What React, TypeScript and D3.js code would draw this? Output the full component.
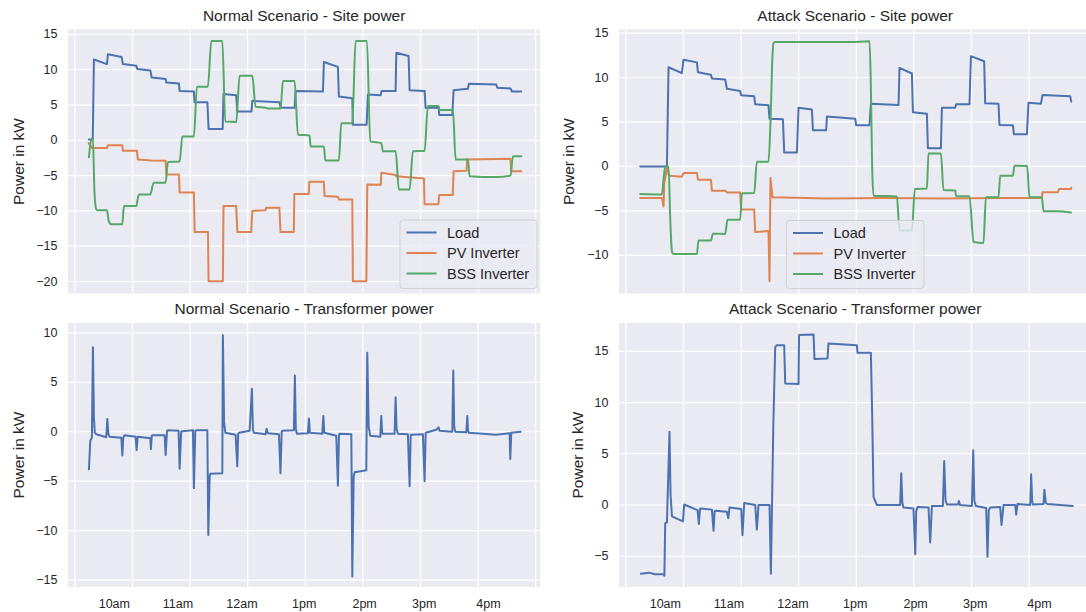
import React from 'react';
import * as d3 from 'd3';

type Pt = [number, number];

// hours of the day on the x axis
const hourGrid = [9, 10, 11, 12, 13, 14, 15, 16, 17];
const timeLabels = ['10am', '11am', '12am', '1pm', '2pm', '3pm', '4pm'];
const timeLabelHours = [9.685, 10.79, 11.9, 12.98, 14.03, 15.065, 16.18];

const seriesNames = ['Load', 'PV Inverter', 'BSS Inverter'];
const seriesColors = ['#4c72b0', '#dd8452', '#55a868'];

// Normal scenario - site power  [hour, kW]
const normalLoad: Pt[] = [
  [9.24, 0.1], [9.31, 0.1], [9.33, 11.45], [9.556, 10.8], [9.573, 12.2], [9.81, 11.8], [9.833, 10.8],
  [10.066, 10.55], [10.083, 10.1], [10.31, 9.9], [10.332, 8.9], [10.575, 8.7], [10.587, 8.2], [10.806, 8.05],
  [10.818, 7.0], [11.066, 6.9], [11.078, 5.4], [11.3, 5.4], [11.321, 1.6], [11.565, 1.6], [11.58, 6.55],
  [11.8, 6.4], [11.819, 4.07], [12.065, 4.07], [12.08, 5.6], [12.554, 5.4], [12.571, 4.6], [12.814, 4.6],
  [12.832, 7.0], [13.306, 6.9], [13.323, 11.1], [13.566, 10.4], [13.583, 6.2], [13.816, 5.95], [13.826, 2.2],
  [14.065, 2.2], [14.087, 6.5], [14.307, 6.4], [14.325, 7.0], [14.568, 7.0], [14.58, 12.4], [14.793, 11.95],
  [14.811, 7.1], [15.071, 7.0], [15.089, 4.6], [15.314, 4.6], [15.326, 3.6], [15.552, 3.6], [15.575, 7.1],
  [15.823, 7.3], [15.84, 8.0], [16.316, 7.9], [16.333, 7.45], [16.564, 7.35], [16.587, 6.9], [16.75, 6.9],
];
const normalPV: Pt[] = [
  [9.24, -0.4], [9.3, -1.1], [9.556, -1.1], [9.573, -0.7], [9.823, -0.7], [9.833, -1.47], [10.076, -1.47],
  [10.094, -2.73], [10.326, -2.85], [10.575, -2.9], [10.587, -4.85], [10.806, -4.85], [10.818, -7.4],
  [11.066, -7.4], [11.078, -12.97], [11.31, -12.97], [11.321, -19.96], [11.569, -19.96], [11.58, -9.3],
  [11.8, -9.3], [11.82, -13], [12.06, -13], [12.08, -10.0], [12.31, -9.9], [12.32, -9.55], [12.55, -9.55],
  [12.57, -13], [12.8, -13], [12.81, -7.6], [13.06, -7.6], [13.07, -5.87], [13.32, -5.87], [13.335, -7.9],
  [13.566, -8.0], [13.583, -8.37], [13.816, -8.4], [13.826, -19.96], [14.06, -19.96], [14.076, -6.25],
  [14.31, -6.3], [14.32, -4.6], [14.57, -4.9], [14.58, -5.1], [15.06, -5.4], [15.07, -9.07], [15.31, -9.07],
  [15.326, -7.76], [15.56, -7.76], [15.575, -4.38], [15.8, -4.3], [15.81, -2.73], [16.32, -2.65],
  [16.56, -2.6], [16.576, -4.38], [16.75, -4.38],
];
const normalBSS: Pt[] = [
  [9.243, -2.4], [9.285, 0.1], [9.313, 0.1], [9.34, -7.5], [9.372, -9.8], [9.39, -9.9], [9.556, -9.9],
  [9.59, -11.5], [9.632, -11.9], [9.823, -11.9], [9.851, -9.3], [10.066, -9.3], [10.1, -7.9], [10.123, -7.66],
  [10.309, -7.66], [10.366, -6.0], [10.575, -6.0], [10.615, -3.06], [10.818, -3.0], [10.865, 0.55],
  [11.066, 0.55], [11.118, 7.6], [11.309, 7.6], [11.368, 14.07], [11.559, 14.07], [11.611, 2.66],
  [11.802, 2.6], [11.859, 9.14], [12.08, 9.14], [12.137, 4.77], [12.323, 4.6], [12.351, 4.5], [12.571, 4.5],
  [12.611, 8.4], [12.814, 8.4], [12.872, 0.79], [13.075, 0.7], [13.092, -0.86], [13.323, -0.86],
  [13.347, -2.87], [13.583, -2.87], [13.625, 2.43], [13.816, 2.43], [13.873, 14.07], [14.07, 14.07],
  [14.128, -0.15], [14.32, -0.4], [14.347, -1.56], [14.568, -1.56], [14.625, -6.96], [14.811, -6.96],
  [14.868, -1.56], [15.071, -1.5], [15.128, 4.87], [15.314, 4.87], [15.326, 4.3], [15.563, 4.3],
  [15.61, -2.73], [15.823, -2.73], [15.852, -5.08], [16.316, -5.2], [16.564, -5.0], [16.604, -2.27],
  [16.75, -2.27],
];

// Attack scenario - site power
const attackLoad: Pt[] = [
  [9.248, 0.0], [9.712, 0.0], [9.74, 11.15], [9.972, 10.5], [10.0, 12.0], [10.233, 11.7], [10.25, 10.6],
  [10.476, 10.3], [10.493, 9.9], [10.724, 9.78], [10.753, 8.73], [10.984, 8.47], [11.001, 8.0], [11.227, 7.9],
  [11.245, 6.98], [11.476, 6.87], [11.493, 5.37], [11.726, 5.3], [11.748, 1.57], [11.969, 1.57],
  [11.997, 6.6], [12.229, 6.4], [12.247, 4.07], [12.477, 4.07], [12.49, 5.6], [12.98, 5.37], [12.998, 4.62],
  [13.229, 4.62], [13.253, 7.05], [13.733, 6.9], [13.75, 11.08], [13.965, 10.45], [13.983, 6.1],
  [14.226, 5.93], [14.243, 2.05], [14.469, 2.05], [14.486, 6.6], [14.717, 6.6], [14.734, 6.98],
  [14.965, 6.98], [14.99, 12.4], [15.22, 11.83], [15.238, 7.09], [15.469, 7.05], [15.486, 4.66],
  [15.719, 4.62], [15.736, 3.62], [15.962, 3.62], [15.99, 7.17], [16.205, 7.05], [16.233, 8.02],
  [16.714, 7.9], [16.732, 7.28],
];
const attackPV: Pt[] = [
  [9.248, -3.55], [9.625, -3.55], [9.653, -4.5], [9.665, -2.0], [9.712, -0.1], [9.74, -0.9], [9.757, -1.05],
  [9.972, -1.16], [10.0, -0.75], [10.233, -0.75], [10.25, -1.5], [10.476, -1.5], [10.493, -2.73],
  [10.724, -2.73], [10.753, -2.93], [10.984, -2.93], [11.001, -4.86], [11.227, -4.86], [11.245, -7.39],
  [11.476, -7.28], [11.493, -12.88], [11.51, -1.31], [11.545, -3.47], [12.5, -3.6], [13.5, -3.55],
  [14.5, -3.6], [15.5, -3.55], [16.222, -3.55], [16.233, -2.91], [16.5, -2.91], [16.52, -2.54],
  [16.726, -2.54], [16.732, -2.4],
];
const attackBSS: Pt[] = [
  [9.248, -3.1], [9.625, -3.15], [9.66, -1.0], [9.685, -0.05], [9.74, 0.0], [9.77, -6.0], [9.8, -9.6],
  [9.82, -9.85], [10.233, -9.85], [10.26, -8.33], [10.476, -8.35], [10.51, -7.58], [10.724, -7.6],
  [10.764, -6.01], [10.984, -6.0], [11.014, -3.02], [11.227, -3.0], [11.274, 0.52], [11.476, 0.52],
  [11.51, 5.0], [11.545, 12.5], [11.562, 13.89], [11.6, 14.0], [12.894, 14.0], [13.229, 14.07],
  [13.25, 10.0], [13.275, 0.0], [13.299, -3.29], [13.705, -3.4], [13.75, -7.2], [13.965, -7.2],
  [14.017, -2.54], [14.226, -2.5], [14.253, 1.46], [14.469, 1.46], [14.514, -2.65], [14.717, -2.7],
  [14.734, -3.35], [14.965, -3.35], [15.035, -8.51], [15.208, -8.62], [15.25, -3.47], [15.469, -3.47],
  [15.498, -1.05], [15.719, -1.05], [15.746, 0.07], [15.966, 0.05], [16.007, -3.47], [16.222, -3.47],
  [16.25, -5.04], [16.5, -5.04], [16.726, -5.2],
];

// Transformer power
const normalTrafo: Pt[] = [
  [9.243, -3.8], [9.267, -0.9], [9.295, -0.6], [9.313, 8.55], [9.33, 1.5], [9.345, -0.1], [9.372, -0.25],
  [9.545, -0.55], [9.563, 1.3], [9.58, -0.2], [9.602, -0.5], [9.806, -0.6], [9.823, -2.4], [9.84, -0.6],
  [9.863, -0.35], [10.054, -0.5], [10.071, -1.85], [10.09, -0.5], [10.309, -0.65], [10.319, -1.75],
  [10.335, -0.4], [10.354, -0.35], [10.557, -0.35], [10.575, -2.35], [10.6, 0.1], [10.615, 0.15],
  [10.8, 0.1], [10.818, -3.75], [10.845, 0.0], [10.858, 0.05], [11.049, 0.15], [11.066, -5.7], [11.09, 0.1],
  [11.108, 0.15], [11.299, 0.15], [11.316, -10.45], [11.34, -4.5], [11.351, -4.25], [11.559, -4.2],
  [11.569, 9.75], [11.59, 1.0], [11.611, -0.1], [11.79, -0.3], [11.819, -3.5], [11.835, -0.2], [11.847, -0.1],
  [12.033, 0.1], [12.073, 4.35], [12.09, 0.2], [12.108, -0.1], [12.311, -0.25], [12.328, 0.3], [12.35, -0.15],
  [12.542, -0.25], [12.569, -4.2], [12.59, 0.0], [12.6, 0.1], [12.802, 0.15], [12.819, 5.7], [12.835, 0.3],
  [12.854, -0.2], [13.045, -0.15], [13.063, 1.35], [13.08, -0.1], [13.295, -0.2], [13.313, 1.6], [13.33, -0.1],
  [13.538, -0.4], [13.566, -5.45], [13.585, -0.3], [13.595, -0.2], [13.799, -0.25], [13.816, -14.65],
  [13.84, -4.5], [13.856, -4.1], [14.059, -3.9], [14.076, 8.0], [14.1, 0.5], [14.128, -0.4], [14.302, -0.5],
  [14.319, 1.6], [14.335, -0.2], [14.55, -0.2], [14.568, 3.5], [14.585, 0.3], [14.608, -0.2], [14.781, -0.25],
  [14.811, -5.5], [14.83, -0.3], [15.042, -0.25], [15.071, -5.0], [15.09, -0.1], [15.274, 0.2], [15.314, 0.45],
  [15.33, 0.1], [15.552, 0.0], [15.569, 6.2], [15.585, 0.5], [15.604, 0.0], [15.795, -0.05], [15.813, 1.6],
  [15.825, 0.1], [15.84, -0.1], [16.316, -0.3], [16.547, -0.15], [16.559, -2.75], [16.576, -0.1],
  [16.738, 0.0],
];
const attackTrafo: Pt[] = [
  [9.26, -6.7], [9.4, -6.6], [9.5, -6.75], [9.653, -6.75], [9.668, -6.9], [9.682, -1.8], [9.712, -1.7],
  [9.757, 7.15], [9.775, 1.0], [9.799, -1.1], [9.99, -1.6], [10.012, 0.05], [10.243, -0.5], [10.267, -1.85],
  [10.285, -0.4], [10.302, -0.33], [10.493, -0.45], [10.521, -2.5], [10.54, -0.6], [10.55, -0.55],
  [10.753, -0.65], [10.776, -1.3], [10.799, -0.25], [11.002, -0.4], [11.024, -2.95], [11.054, 0.2],
  [11.245, 0.0], [11.274, -2.4], [11.302, 0.0], [11.493, 0.0], [11.517, -6.7], [11.56, 8.0], [11.592, 15.4],
  [11.621, 15.6], [11.748, 15.6], [11.766, 11.85], [11.997, 11.8], [12.006, 16.6], [12.257, 16.65],
  [12.274, 14.25], [12.5, 14.3], [12.517, 15.75], [13.01, 15.6], [13.021, 14.85], [13.253, 14.85],
  [13.275, 9.0], [13.299, 0.8], [13.358, 0.0], [13.762, 0.0], [13.78, 3.1], [13.8, 0.2], [13.819, -0.25],
  [13.993, -0.35], [14.023, -4.8], [14.04, -0.6], [14.063, -0.2], [14.254, -0.25], [14.283, -3.65],
  [14.313, -0.1], [14.503, -0.1], [14.526, 4.3], [14.55, 0.4], [14.573, 0.05], [14.764, 0.05], [14.781, 0.4],
  [14.8, 0.0], [15.007, -0.1], [15.03, 5.35], [15.05, 0.4], [15.076, -0.1], [15.255, -0.3], [15.278, -5.05],
  [15.3, -0.5], [15.325, -0.25], [15.498, -0.2], [15.521, -1.95], [15.556, 0.0], [15.759, 0.0],
  [15.776, -0.95], [15.799, 0.1], [16.019, 0.0], [16.035, 3.0], [16.055, 0.3], [16.066, 0.05], [16.25, 0.1],
  [16.266, 1.5], [16.29, 0.2], [16.319, 0.1], [16.76, -0.1],
];

const FONT = "'Liberation Sans', Arial, sans-serif";
const TEXT = '#262626';
const X_DOMAIN: [number, number] = [8.88, 17.08];

const fmt = (v: number) => (v < 0 ? '\u2212' + Math.abs(v) : String(v));

interface LineSpec { data: Pt[]; color: string; smooth?: boolean }

interface PanelProps {
  id: string;
  left: number; top: number; width: number; height: number;
  yDomain: [number, number]; yTicks: number[];
  lines: LineSpec[];
  title: string;
  showXLabels: boolean;
  ylabelX: number;
  legend?: { x: number; y: number; w: number; h: number };
}

const Panel = (p: PanelProps) => {
  const x = d3.scaleLinear().domain(X_DOMAIN).range([p.left, p.left + p.width]);
  const y = d3.scaleLinear().domain(p.yDomain).range([p.top + p.height, p.top]);
  const straight = d3.line<Pt>().x(d => x(d[0])).y(d => y(d[1]));
  const smooth = d3.line<Pt>().x(d => x(d[0])).y(d => y(d[1])).curve(d3.curveMonotoneX);

  return (
    <g>
      <clipPath id={p.id}>
        <rect x={p.left} y={p.top} width={p.width} height={p.height} />
      </clipPath>
      <rect x={p.left} y={p.top} width={p.width} height={p.height} fill="#eaeaf2" />
      {hourGrid.map(h => (
        <line key={'gx' + h} x1={x(h)} x2={x(h)} y1={p.top} y2={p.top + p.height} stroke="#fff" strokeWidth={1.2} />
      ))}
      {p.yTicks.map(v => (
        <line key={'gy' + v} x1={p.left} x2={p.left + p.width} y1={y(v)} y2={y(v)} stroke="#fff" strokeWidth={1.2} />
      ))}
      <g clipPath={`url(#${p.id})`}>
        {p.lines.map((l, i) => (
          <path key={i} d={(l.smooth ? smooth : straight)(l.data) || ''} fill="none" stroke={l.color}
            strokeWidth={2} strokeLinejoin="round" strokeLinecap="round" />
        ))}
      </g>
      {p.yTicks.map(v => (
        <text key={'ty' + v} x={p.left - 10.5} y={y(v)} textAnchor="end" dominantBaseline="central"
          fontSize={12.5} fill={TEXT} fontFamily={FONT}>{fmt(v)}</text>
      ))}
      {p.showXLabels && timeLabels.map((s, i) => (
        <text key={s} x={x(timeLabelHours[i])} y={p.top + p.height + 21} textAnchor="middle"
          fontSize={12.5} fill={TEXT} fontFamily={FONT}>{s}</text>
      ))}
      <text x={p.left + p.width / 2} y={p.top - 9} textAnchor="middle" fontSize={15.5} fill={TEXT}
        fontFamily={FONT}>{p.title}</text>
      <text transform={`translate(${p.ylabelX},${p.top + p.height / 2}) rotate(-90)`} textAnchor="middle"
        dominantBaseline="central" fontSize={15.5} fill={TEXT} fontFamily={FONT}>Power in kW</text>
      {p.legend && (
        <g>
          <rect x={p.legend.x} y={p.legend.y} width={p.legend.w} height={p.legend.h} rx={3}
            fill="#eaeaf2" fillOpacity={0.8} stroke="#cccccc" strokeOpacity={0.8} />
          {seriesNames.map((n, i) => {
            const cy = p.legend!.y + 12.5 + i * 20.5;
            return (
              <g key={n}>
                <line x1={p.legend!.x + 6.5} x2={p.legend!.x + 36.5} y1={cy} y2={cy} stroke={seriesColors[i]} strokeWidth={2} />
                <text x={p.legend!.x + 47} y={cy} dominantBaseline="central" fontSize={14.5} fill={TEXT}
                  fontFamily={FONT}>{n}</text>
              </g>
            );
          })}
        </g>
      )}
    </g>
  );
};

export default function App() {
  const leftX = 68, rightX = 619, w = 472.3, h = 264;
  const topY = 29.5, botY = 323;
  return (
    <svg width={1086} height={612} style={{ position: 'absolute', left: 0, top: 0, background: '#fff' }}>
      <Panel id="c1" left={leftX} top={topY} width={w} height={h} yDomain={[-21.7, 15.7]}
        yTicks={[-20, -15, -10, -5, 0, 5, 10, 15]} title="Normal Scenario - Site power" showXLabels={false}
        ylabelX={18}
        lines={[
          { data: normalLoad, color: seriesColors[0] },
          { data: normalPV, color: seriesColors[1] },
          { data: normalBSS, color: seriesColors[2], smooth: true },
        ]}
        legend={{ x: 400, y: 220, w: 137, h: 68.5 }} />
      <Panel id="c2" left={rightX} top={topY} width={w} height={h} yDomain={[-14.3, 15.4]}
        yTicks={[-10, -5, 0, 5, 10, 15]} title="Attack Scenario - Site power" showXLabels={false}
        ylabelX={568}
        lines={[
          { data: attackLoad, color: seriesColors[0] },
          { data: attackPV, color: seriesColors[1] },
          { data: attackBSS, color: seriesColors[2], smooth: true },
        ]}
        legend={{ x: 786.5, y: 220.5, w: 137.5, h: 68 }} />
      <Panel id="c3" left={leftX} top={botY} width={w} height={h} yDomain={[-15.7, 11.0]}
        yTicks={[-15, -10, -5, 0, 5, 10]} title="Normal Scenario - Transformer power" showXLabels={true}
        ylabelX={18}
        lines={[{ data: normalTrafo, color: seriesColors[0] }]} />
      <Panel id="c4" left={rightX} top={botY} width={w} height={h} yDomain={[-8.0, 17.76]}
        yTicks={[-5, 0, 5, 10, 15]} title="Attack Scenario - Transformer power" showXLabels={true}
        ylabelX={577}
        lines={[{ data: attackTrafo, color: seriesColors[0] }]} />
    </svg>
  );
}
